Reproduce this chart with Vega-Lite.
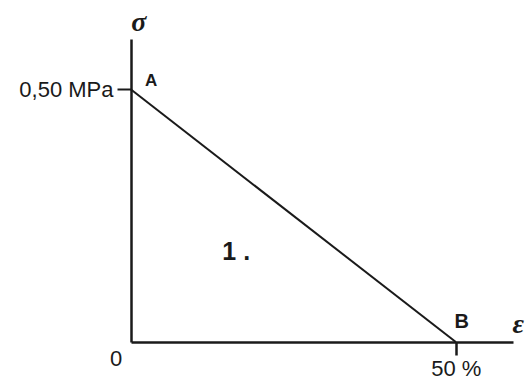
{
  "$schema": "https://vega.github.io/schema/vega-lite/v6.json",
  "width": 382,
  "height": 303,
  "autosize": {"type": "none"},
  "padding": {"left": 131, "top": 39, "right": 13, "bottom": 41},
  "background": "white",
  "config": {"view": {"stroke": null}},
  "datasets": {
    "curve": [
      {"strain": 0, "stress": 0.5, "point": "A"},
      {"strain": 50, "stress": 0, "point": "B"}
    ],
    "notes": [
      {"strain": 3.1, "stress": 0.516, "text": "A", "kind": "pointA"},
      {"strain": 50.9, "stress": 0.04, "text": "B", "kind": "pointB"},
      {"strain": 16.2, "stress": 0.178, "text": "1 .", "kind": "region"},
      {"strain": -2.3, "stress": -0.034, "text": "0", "kind": "origin"},
      {"strain": 1.2, "stress": 0.632, "text": "σ", "kind": "symbol"},
      {"strain": 59.6, "stress": 0.034, "text": "ε", "kind": "symbol"}
    ]
  },
  "encoding": {
    "x": {
      "field": "strain",
      "type": "quantitative",
      "scale": {"domain": [0, 58.8], "nice": false, "zero": false},
      "axis": {
        "title": null,
        "grid": false,
        "values": [50],
        "labelExpr": "'50 %'",
        "domainColor": "#1a1a1a",
        "domainWidth": 2.5,
        "tickColor": "#1a1a1a",
        "tickWidth": 2.5,
        "tickSize": 13,
        "labelFont": "Liberation Sans",
        "labelFontSize": 22,
        "labelColor": "#1a1a1a",
        "labelPadding": 3
      }
    },
    "y": {
      "field": "stress",
      "type": "quantitative",
      "scale": {"domain": [0, 0.6], "nice": false, "zero": false},
      "axis": {
        "title": null,
        "grid": false,
        "values": [0.5],
        "labelExpr": "'0,50 MPa'",
        "domainColor": "#1a1a1a",
        "domainWidth": 2.5,
        "tickColor": "#1a1a1a",
        "tickWidth": 2,
        "tickSize": 14,
        "labelFont": "Liberation Sans",
        "labelFontSize": 22,
        "labelColor": "#1a1a1a",
        "labelPadding": 4
      }
    }
  },
  "layer": [
    {
      "data": {"name": "curve"},
      "mark": {"type": "line", "color": "#1a1a1a", "strokeWidth": 2}
    },
    {
      "data": {"name": "notes"},
      "transform": [{"filter": "datum.kind === 'pointA'"}],
      "mark": {"type": "text", "font": "Liberation Sans", "fontWeight": "bold", "fontSize": 17, "color": "#1a1a1a", "clip": false},
      "encoding": {"text": {"field": "text"}}
    },
    {
      "data": {"name": "notes"},
      "transform": [{"filter": "datum.kind === 'pointB'"}],
      "mark": {"type": "text", "font": "Liberation Sans", "fontWeight": "bold", "fontSize": 20, "color": "#1a1a1a", "clip": false},
      "encoding": {"text": {"field": "text"}}
    },
    {
      "data": {"name": "notes"},
      "transform": [{"filter": "datum.kind === 'region'"}],
      "mark": {"type": "text", "font": "Liberation Sans", "fontWeight": "bold", "fontSize": 25, "color": "#1a1a1a", "clip": false},
      "encoding": {"text": {"field": "text"}}
    },
    {
      "data": {"name": "notes"},
      "transform": [{"filter": "datum.kind === 'origin'"}],
      "mark": {"type": "text", "font": "Liberation Sans", "fontSize": 22, "color": "#1a1a1a", "clip": false},
      "encoding": {"text": {"field": "text"}}
    },
    {
      "data": {"name": "notes"},
      "transform": [{"filter": "datum.kind === 'symbol'"}],
      "mark": {"type": "text", "font": "Liberation Serif", "fontWeight": "bold", "fontStyle": "italic", "fontSize": 28, "color": "#1a1a1a", "clip": false},
      "encoding": {"text": {"field": "text"}}
    }
  ]
}
